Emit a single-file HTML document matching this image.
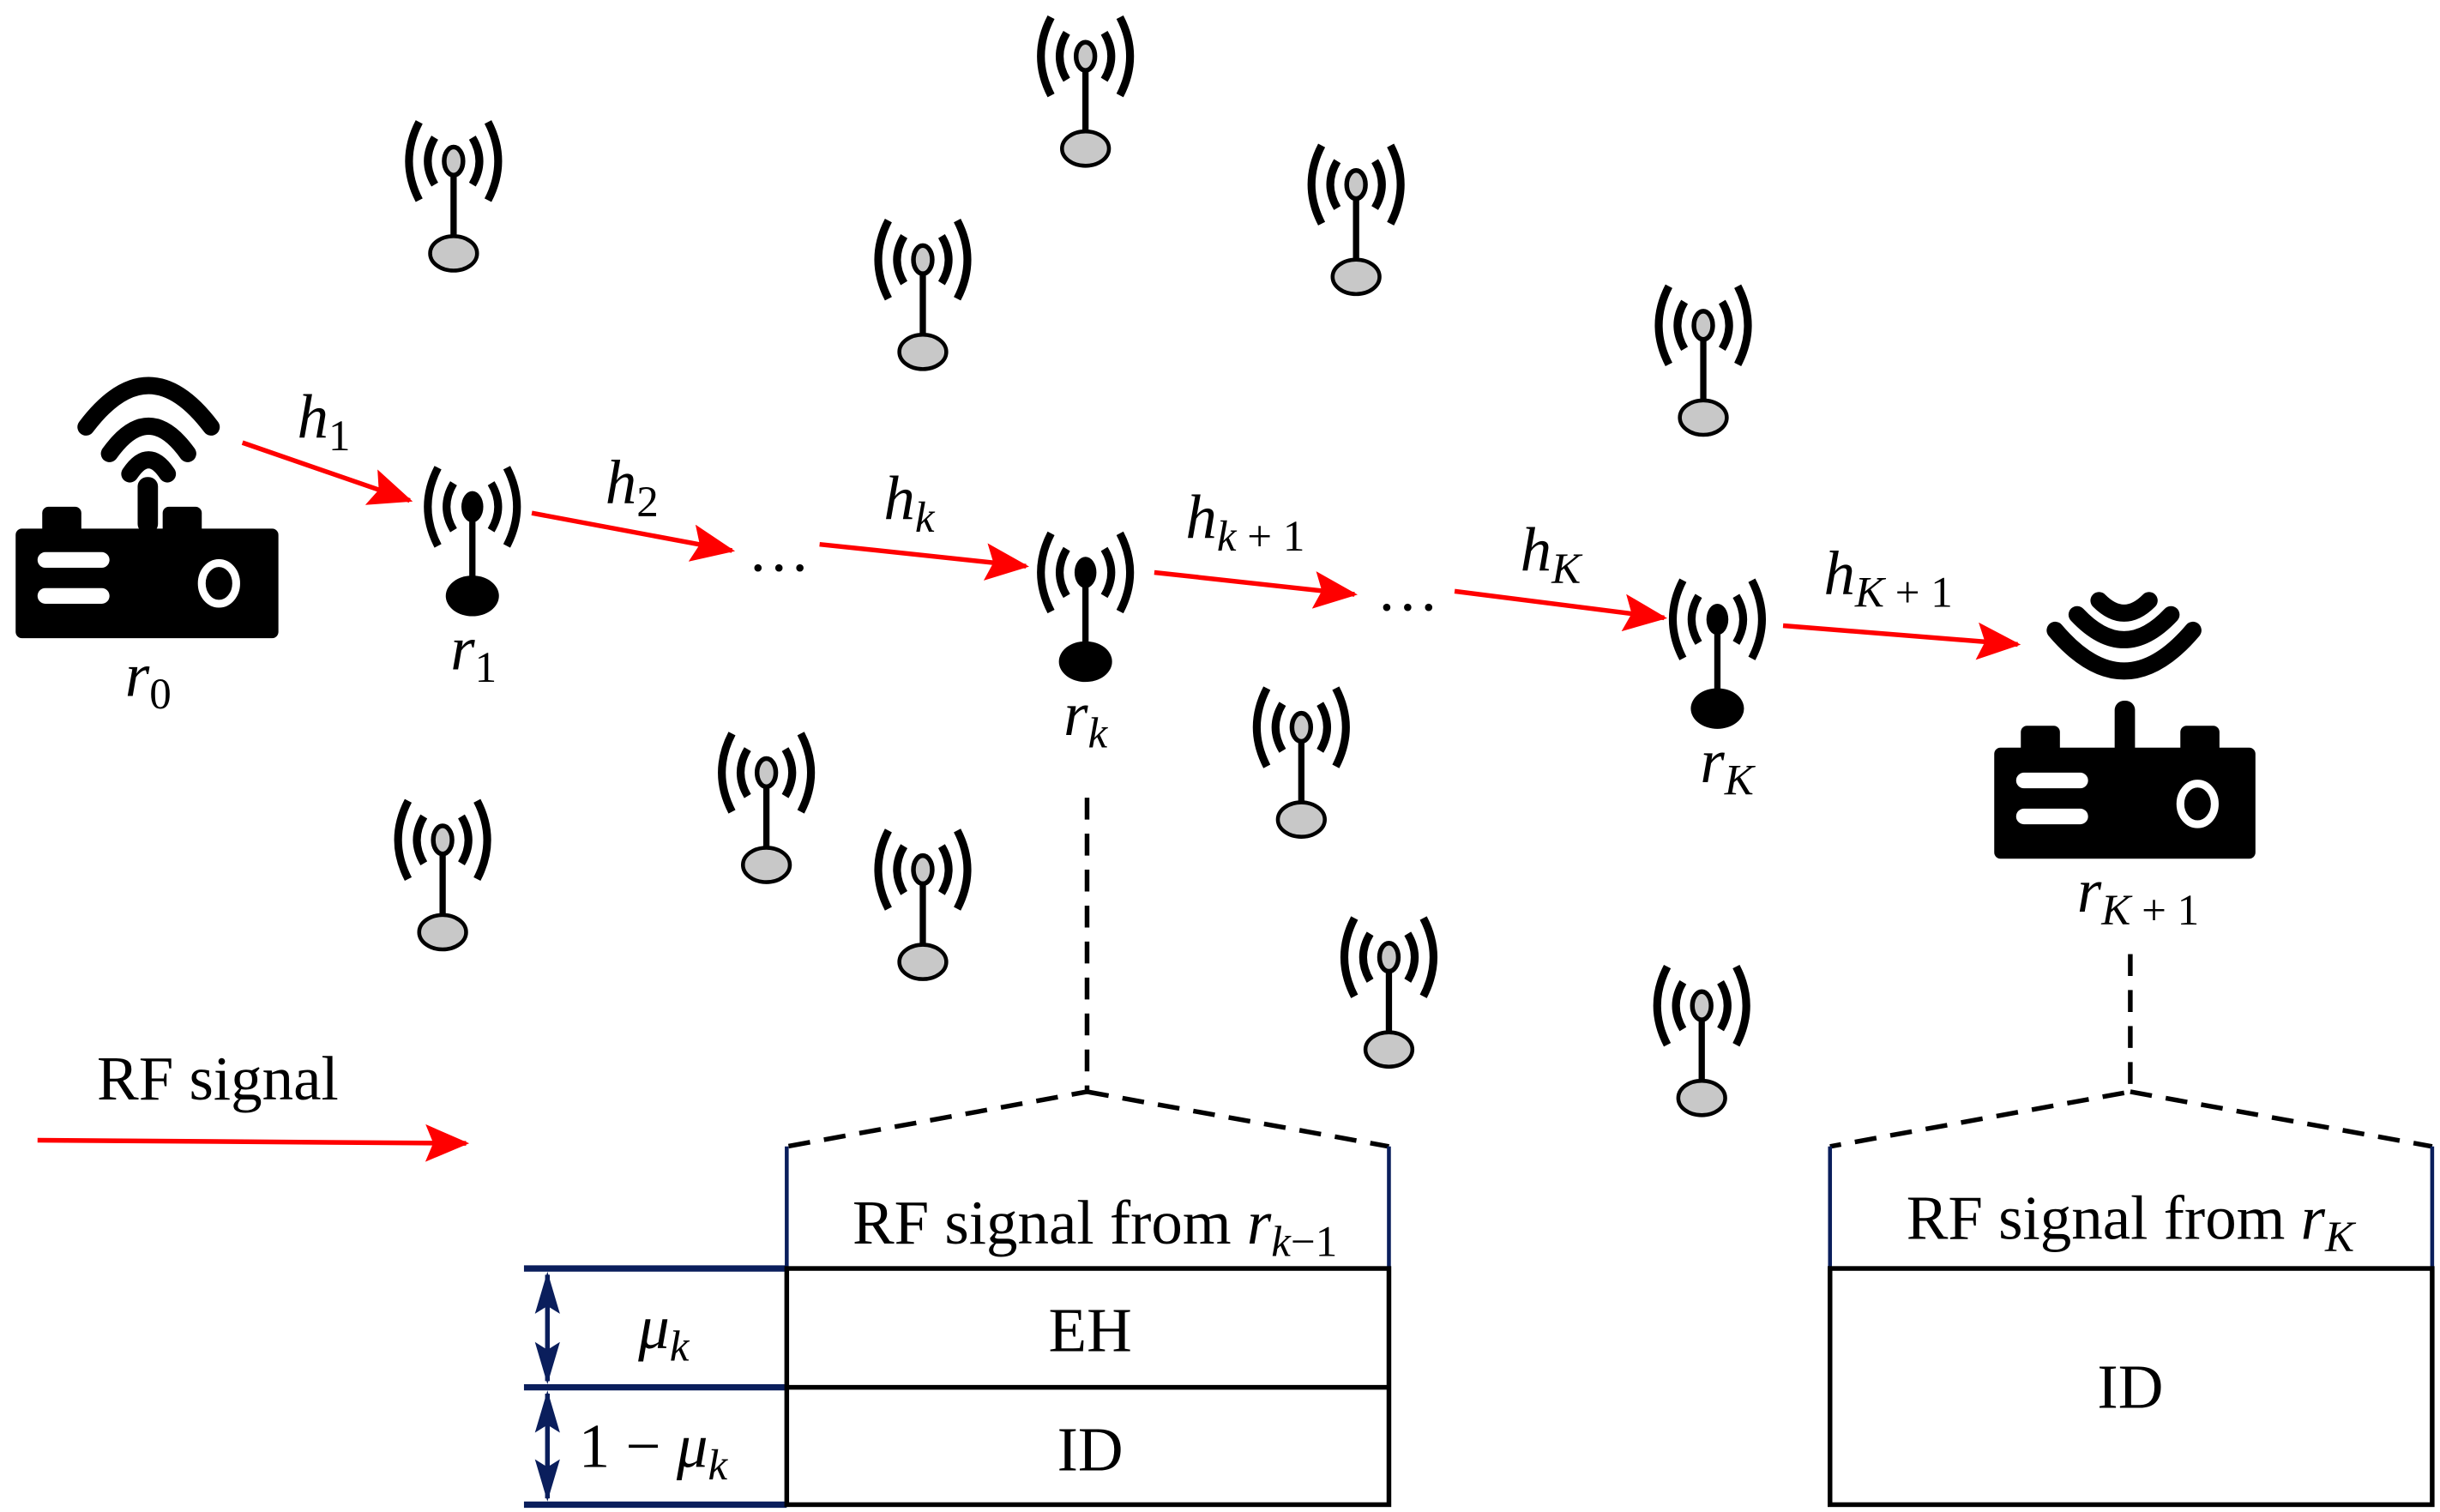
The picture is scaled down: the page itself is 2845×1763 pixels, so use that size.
<!DOCTYPE html>
<html><head><meta charset="utf-8"><style>
html,body{margin:0;padding:0;background:#fff;}
svg{display:block;}
text{font-family:"Liberation Serif",serif;fill:#000;}
.i{font-style:italic;}
</style></head><body>
<svg width="2845" height="1763" viewBox="0 0 1560 966.7" preserveAspectRatio="none" xmlns="http://www.w3.org/2000/svg">
<defs>
<g id="arcs" fill="none" stroke="#000" stroke-width="5" stroke-linecap="butt">
<path d="M-12,-15 Q-21,0 -12,15"/><path d="M12,-15 Q21,0 12,15"/>
<path d="M-22,-25 Q-35,0 -22,25"/><path d="M22,-25 Q35,0 22,25"/>
</g>
<g id="gant">
<use href="#arcs"/>
<line x1="0" y1="8" x2="0" y2="50" stroke="#000" stroke-width="4"/>
<ellipse cx="0" cy="0" rx="6" ry="9" fill="#c8c8c8" stroke="#000" stroke-width="3"/>
<ellipse cx="0" cy="59" rx="15" ry="11" fill="#c8c8c8" stroke="#000" stroke-width="2.5"/>
</g>
<g id="bant">
<use href="#arcs"/>
<line x1="0" y1="8" x2="0" y2="50" stroke="#000" stroke-width="4"/>
<ellipse cx="0" cy="0" rx="7" ry="10" fill="#000"/>
<ellipse cx="0" cy="57" rx="17" ry="13" fill="#000"/>
</g>
<marker id="ar" markerWidth="28" markerHeight="24" refX="26" refY="12" orient="auto" markerUnits="userSpaceOnUse" viewBox="0 0 28 24">
<path d="M0,0 L28,12 L0,24 L5,12 z" fill="red"/>
</marker>
</defs>

<!-- router r0 -->
<g>
<rect x="10" y="338" width="168" height="70" rx="4" fill="#000"/>
<rect x="27" y="324" width="25" height="18" rx="4" fill="#000"/>
<rect x="104" y="324" width="25" height="18" rx="4" fill="#000"/>
<rect x="88" y="305" width="13" height="36" rx="6" fill="#000"/>
<rect x="24" y="353" width="46" height="10" rx="5" fill="#fff"/>
<rect x="24" y="376" width="46" height="10" rx="5" fill="#fff"/>
<ellipse cx="140" cy="373" rx="11" ry="13" fill="none" stroke="#fff" stroke-width="5"/>
<g fill="none" stroke="#000" stroke-width="11" stroke-linecap="round">
<path d="M55,273 Q95,220 135,273"/>
<path d="M70,290 Q95,255 120,290"/>
<path d="M83,303 Q95,285 107,303"/>
</g>
</g>

<!-- router rK+1 -->
<g>
<rect x="1275" y="478" width="167" height="71" rx="4" fill="#000"/>
<rect x="1292" y="464" width="25" height="18" rx="4" fill="#000"/>
<rect x="1394" y="464" width="25" height="18" rx="4" fill="#000"/>
<rect x="1352" y="448" width="13" height="36" rx="6" fill="#000"/>
<rect x="1289" y="494" width="46" height="10" rx="5" fill="#fff"/>
<rect x="1289" y="517" width="46" height="10" rx="5" fill="#fff"/>
<ellipse cx="1405" cy="514" rx="11" ry="13" fill="none" stroke="#fff" stroke-width="5"/>
<g fill="none" stroke="#000" stroke-width="11" stroke-linecap="round">
<path d="M1314,403 Q1358,455 1402,403"/>
<path d="M1328,393 Q1358,425 1388,393"/>
<path d="M1342,384 Q1358,400 1374,384"/>
</g>
</g>

<use href="#bant" x="302" y="324"/>
<use href="#bant" x="694" y="366"/>
<use href="#bant" x="1098" y="396"/>

<use href="#gant" x="290" y="103"/>
<use href="#gant" x="694" y="36"/>
<use href="#gant" x="590" y="166"/>
<use href="#gant" x="867" y="118"/>
<use href="#gant" x="1089" y="208"/>
<use href="#gant" x="832" y="465"/>
<use href="#gant" x="490" y="494"/>
<use href="#gant" x="283" y="537"/>
<use href="#gant" x="590" y="556"/>
<use href="#gant" x="888" y="612"/>
<use href="#gant" x="1088" y="643"/>

<g stroke="red" stroke-width="3" marker-end="url(#ar)" fill="none">
<line x1="155" y1="283" x2="262" y2="320"/>
<line x1="340" y1="328" x2="468" y2="352"/>
<line x1="524" y1="348" x2="656" y2="362"/>
<line x1="738" y1="366" x2="866" y2="380"/>
<line x1="930" y1="378" x2="1064" y2="395"/>
<line x1="1140" y1="400" x2="1290" y2="412"/>
<line x1="24" y1="729" x2="298" y2="731"/>
</g>

<g font-size="40">
<text x="190" y="280" class="i">h<tspan font-size="28" font-style="normal" dy="8">1</tspan></text>
<text x="387" y="322" class="i">h<tspan font-size="28" font-style="normal" dy="8">2</tspan></text>
<text x="565" y="332" class="i">h<tspan font-size="28" dy="8">k</tspan></text>
<text x="758" y="344" class="i">h<tspan font-size="28" dy="8">k</tspan><tspan font-size="28" font-style="normal"> + 1</tspan></text>
<text x="972" y="365" class="i">h<tspan font-size="28" dy="8">K</tspan></text>
<text x="1166" y="380" class="i">h<tspan font-size="28" dy="8">K</tspan><tspan font-size="28" font-style="normal"> + 1</tspan></text>
<text x="80" y="445" class="i">r<tspan font-size="28" font-style="normal" dy="8">0</tspan></text>
<text x="288" y="428" class="i">r<tspan font-size="28" font-style="normal" dy="8">1</tspan></text>
<text x="680" y="470" class="i">r<tspan font-size="28" dy="8">k</tspan></text>
<text x="1087" y="500" class="i">r<tspan font-size="28" dy="8">K</tspan></text>
<text x="1328" y="583" class="i">r<tspan font-size="28" dy="8">K</tspan><tspan font-size="28" font-style="normal"> + 1</tspan></text>
<text x="478" y="365">…</text>
<text x="880" y="390">…</text>
<text x="62" y="703">RF signal</text>
</g>

<g stroke="#000" stroke-width="3" stroke-dasharray="14,9" fill="none">
<path d="M695,510 L695,698 L503,733"/>
<path d="M695,698 L888,733"/>
<path d="M1362,610 L1362,698 L1170,733"/>
<path d="M1362,698 L1555,733"/>
</g>

<g stroke="#0a1e5c" stroke-width="2.5">
<line x1="503" y1="733" x2="503" y2="811"/>
<line x1="888" y1="733" x2="888" y2="811"/>
<line x1="1170" y1="733" x2="1170" y2="811"/>
<line x1="1555" y1="733" x2="1555" y2="811"/>
</g>
<g stroke="#0a1e5c" stroke-width="4">
<line x1="335" y1="811" x2="503" y2="811"/>
<line x1="335" y1="887" x2="503" y2="887"/>
<line x1="335" y1="962" x2="503" y2="962"/>
<line x1="350" y1="815" x2="350" y2="883" stroke-width="3"/>
<line x1="350" y1="891" x2="350" y2="958" stroke-width="3"/>
</g>
<g fill="#0a1e5c">
<path d="M350,813 L358,840 L350,835 L342,840 z"/>
<path d="M350,885 L358,858 L350,863 L342,858 z"/>
<path d="M350,889 L358,916 L350,911 L342,916 z"/>
<path d="M350,960 L358,933 L350,938 L342,933 z"/>
</g>
<g stroke="#000" stroke-width="3" fill="none">
<rect x="503" y="811" width="385" height="151"/>
<line x1="503" y1="887" x2="888" y2="887"/>
<rect x="1170" y="811" width="385" height="151"/>
</g>
<g font-size="40" text-anchor="middle">
<text x="700" y="795">RF signal from <tspan class="i">r</tspan><tspan font-size="28" class="i" dy="8">k</tspan><tspan font-size="28" font-style="normal">−1</tspan></text>
<text x="697" y="864">EH</text>
<text x="697" y="940">ID</text>
<text x="1362" y="792">RF signal from <tspan class="i">r</tspan><tspan font-size="28" class="i" dy="8">K</tspan></text>
<text x="1362" y="900">ID</text>
</g>
<g font-size="40">
<text x="408" y="862" class="i">μ<tspan font-size="28" dy="8">k</tspan></text>
<text x="370" y="938">1 − <tspan class="i">μ</tspan><tspan font-size="28" class="i" dy="8">k</tspan></text>
</g>
</svg>
</body></html>
